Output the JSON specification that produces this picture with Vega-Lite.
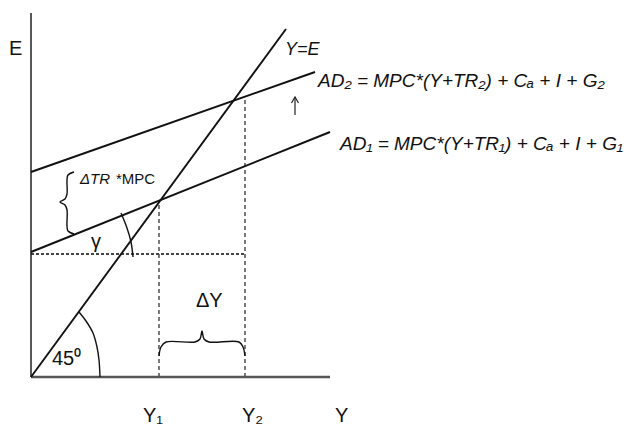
{
  "$schema": "https://vega.github.io/schema/vega-lite/v6.json",
  "width": 628,
  "height": 426,
  "padding": 0,
  "autosize": {"type": "none"},
  "background": "white",
  "config": {"view": {"stroke": null}},
  "datasets": {
    "main": [
      {"id": "YE", "i": 0, "x": 0, "y": 0}, {"id": "YE", "i": 1, "x": 255, "y": 348},
      {"id": "AD1", "i": 0, "x": 0, "y": 125}, {"id": "AD1", "i": 1, "x": 299, "y": 245},
      {"id": "AD2", "i": 0, "x": 0, "y": 205}, {"id": "AD2", "i": 1, "x": 284, "y": 305}
    ],
    "thin": [
      {"id": "yaxis", "i": 0, "x": 0, "y": 0}, {"id": "yaxis", "i": 1, "x": 0, "y": 364},
      {"id": "arc45", "i": 0, "x": 69, "y": 0}, {"id": "arc45", "i": 1, "x": 68, "y": 17},
      {"id": "arc45", "i": 2, "x": 66, "y": 30}, {"id": "arc45", "i": 3, "x": 62, "y": 44},
      {"id": "arc45", "i": 4, "x": 55, "y": 56}, {"id": "arc45", "i": 5, "x": 48, "y": 65},
      {"id": "arcG", "i": 0, "x": 90, "y": 164}, {"id": "arcG", "i": 1, "x": 96, "y": 149},
      {"id": "arcG", "i": 2, "x": 100, "y": 135}, {"id": "arcG", "i": 3, "x": 102, "y": 120},
      {"id": "braceL", "i": 0, "x": 43, "y": 205}, {"id": "braceL", "i": 1, "x": 37, "y": 202},
      {"id": "braceL", "i": 2, "x": 36, "y": 197}, {"id": "braceL", "i": 3, "x": 36, "y": 183},
      {"id": "braceL", "i": 4, "x": 34, "y": 178}, {"id": "braceL", "i": 5, "x": 29, "y": 175},
      {"id": "braceL", "i": 6, "x": 34, "y": 172}, {"id": "braceL", "i": 7, "x": 36, "y": 167},
      {"id": "braceL", "i": 8, "x": 36, "y": 151}, {"id": "braceL", "i": 9, "x": 37, "y": 146},
      {"id": "braceL", "i": 10, "x": 43, "y": 143},
      {"id": "braceB", "i": 0, "x": 128, "y": 21}, {"id": "braceB", "i": 1, "x": 130, "y": 30},
      {"id": "braceB", "i": 2, "x": 135, "y": 35}, {"id": "braceB", "i": 3, "x": 164, "y": 35},
      {"id": "braceB", "i": 4, "x": 169, "y": 38}, {"id": "braceB", "i": 5, "x": 171, "y": 46},
      {"id": "braceB", "i": 6, "x": 173, "y": 38}, {"id": "braceB", "i": 7, "x": 178, "y": 35},
      {"id": "braceB", "i": 8, "x": 208, "y": 35}, {"id": "braceB", "i": 9, "x": 212, "y": 30},
      {"id": "braceB", "i": 10, "x": 214, "y": 21}
    ],
    "arrow": [
      {"id": "shaft", "i": 0, "x": 264, "y": 262}, {"id": "shaft", "i": 1, "x": 264, "y": 280},
      {"id": "head", "i": 0, "x": 260.5, "y": 274}, {"id": "head", "i": 1, "x": 264, "y": 280},
      {"id": "head", "i": 2, "x": 267.5, "y": 274}
    ],
    "xaxis": [{"id": "xaxis", "i": 0, "x": 0, "y": 0}, {"id": "xaxis", "i": 1, "x": 299, "y": 0}],
    "vdash": [{"x": 128, "y": 0, "y2": 175}, {"x": 214, "y": 0, "y2": 279}],
    "hdot": [{"x": 0, "x2": 214, "y": 123}],
    "eqs": [
      {"x": 287, "y": 290, "t": "AD₂ = MPC*(Y+TR₂) + Cₐ + I + G₂"},
      {"x": 309, "y": 227, "t": "AD₁ = MPC*(Y+TR₁) + Cₐ + I + G₁"}
    ],
    "ital": [
      {"x": 254, "y": 322, "t": "Y=E", "s": "big"},
      {"x": 49, "y": 193, "t": "ΔTR", "s": "small"}
    ],
    "labels": [
      {"x": 112, "y": -45, "t": "Y₁"},
      {"x": 211, "y": -45, "t": "Y₂"},
      {"x": 304, "y": -45, "t": "Y"},
      {"x": -22, "y": 322, "t": "E"}
    ],
    "mid": [
      {"x": 165, "y": 70, "t": "ΔY"},
      {"x": 21, "y": 12, "t": "45⁰"},
      {"x": 60, "y": 129, "t": "γ"}
    ],
    "small": [
      {"x": 85, "y": 193, "t": "*MPC"}
    ]
  },
  "encoding": {
    "x": {"field": "x", "type": "quantitative", "scale": {"domain": [-31, 597], "nice": false, "zero": false}, "axis": null},
    "y": {"field": "y", "type": "quantitative", "scale": {"domain": [-49, 377], "nice": false, "zero": false}, "axis": null}
  },
  "layer": [
    {
      "data": {"name": "hdot"},
      "mark": {"type": "rule", "color": "#444", "strokeWidth": 2, "strokeDash": [3, 2]},
      "encoding": {"x2": {"field": "x2"}}
    },
    {
      "data": {"name": "vdash"},
      "mark": {"type": "rule", "color": "#333", "strokeWidth": 1.3, "strokeDash": [4, 3]},
      "encoding": {"y2": {"field": "y2"}}
    },
    {
      "data": {"name": "xaxis"},
      "mark": {"type": "line", "color": "#555", "strokeWidth": 2.6},
      "encoding": {"detail": {"field": "id"}, "order": {"field": "i"}}
    },
    {
      "data": {"name": "thin"},
      "mark": {"type": "line", "color": "#111", "strokeWidth": 1.4, "interpolate": "catmull-rom"},
      "encoding": {"detail": {"field": "id"}, "order": {"field": "i"}}
    },
    {
      "data": {"name": "arrow"},
      "mark": {"type": "line", "color": "#222", "strokeWidth": 1.2},
      "encoding": {"detail": {"field": "id"}, "order": {"field": "i"}}
    },
    {
      "data": {"name": "main"},
      "mark": {"type": "line", "color": "#111", "strokeWidth": 1.9},
      "encoding": {"detail": {"field": "id"}, "order": {"field": "i"}}
    },
    {
      "data": {"name": "eqs"},
      "mark": {"type": "text", "align": "left", "baseline": "alphabetic", "font": "Liberation Sans, Arial, sans-serif", "fontSize": 19, "fontStyle": "italic", "color": "#111"},
      "encoding": {"text": {"field": "t"}}
    },
    {
      "data": {"name": "ital"},
      "transform": [{"filter": "datum.s === 'big'"}],
      "mark": {"type": "text", "align": "left", "baseline": "alphabetic", "font": "Liberation Sans, Arial, sans-serif", "fontSize": 18, "fontStyle": "italic", "color": "#111"},
      "encoding": {"text": {"field": "t"}}
    },
    {
      "data": {"name": "ital"},
      "transform": [{"filter": "datum.s === 'small'"}],
      "mark": {"type": "text", "align": "left", "baseline": "alphabetic", "font": "Liberation Sans, Arial, sans-serif", "fontSize": 15, "fontStyle": "italic", "color": "#111"},
      "encoding": {"text": {"field": "t"}}
    },
    {
      "data": {"name": "labels"},
      "mark": {"type": "text", "align": "left", "baseline": "alphabetic", "font": "Liberation Sans, Arial, sans-serif", "fontSize": 20, "color": "#111"},
      "encoding": {"text": {"field": "t"}}
    },
    {
      "data": {"name": "mid"},
      "mark": {"type": "text", "align": "left", "baseline": "alphabetic", "font": "Liberation Sans, Arial, sans-serif", "fontSize": 20, "color": "#111"},
      "encoding": {"text": {"field": "t"}}
    },
    {
      "data": {"name": "small"},
      "mark": {"type": "text", "align": "left", "baseline": "alphabetic", "font": "Liberation Sans, Arial, sans-serif", "fontSize": 15, "color": "#111"},
      "encoding": {"text": {"field": "t"}}
    }
  ]
}
